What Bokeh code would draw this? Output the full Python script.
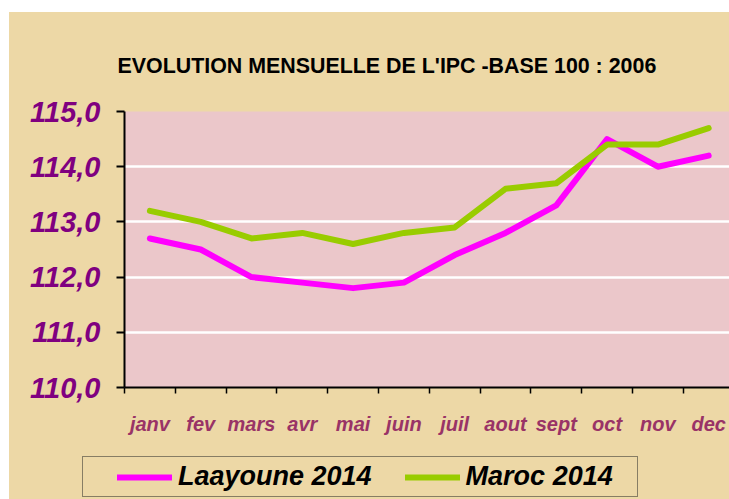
from bokeh.plotting import figure
from bokeh.models import (Range1d, FixedTicker, Legend, LegendItem, Title, Spacer)
from bokeh.layouts import column, row
from bokeh.embed import file_html
from bokeh.resources import INLINE

months = ["janv", "fev", "mars", "avr", "mai", "juin", "juil", "aout", "sept", "oct", "nov", "dec"]
laayoune = [112.7, 112.5, 112.0, 111.9, 111.8, 111.9, 112.4, 112.8, 113.3, 114.5, 114.0, 114.2]
maroc = [113.2, 113.0, 112.7, 112.8, 112.6, 112.8, 112.9, 113.6, 113.7, 114.4, 114.4, 114.7]
y_ticks = [110, 111, 112, 113, 114, 115]
y_labels = ["110,0", "111,0", "112,0", "113,0", "114,0", "115,0"]
title_text = "EVOLUTION MENSUELLE DE L'IPC -BASE 100 : 2006"
series_names = ["Laayoune 2014", "Maroc 2014"]
series_colors = ["#FF00FF", "#99CC00"]

FONT = "Liberation Sans"
TAN = "#EDD8A6"
PINK = "#EBC7CA"

xs = list(range(len(months)))

p = figure(width=720, height=438, output_backend="svg", toolbar_location=None,
           x_range=Range1d(-0.5, 11.41), y_range=Range1d(110, 115),
           min_border_left=115, min_border_right=0, min_border_top=99,
           min_border_bottom=63)
p.background_fill_color = PINK
p.border_fill_color = TAN
p.outline_line_color = None

p.title = Title(text=title_text, align="left", offset=-7, standoff=67,
                text_font=FONT, text_font_size="21.4px", text_font_style="bold",
                text_color="black")

# y axis
ya = p.yaxis[0]
ya.ticker = FixedTicker(ticks=y_ticks)
ya.major_label_overrides = {t: l for t, l in zip(y_ticks, y_labels)}
ya.major_label_text_font = FONT
ya.major_label_text_font_size = "29px"
ya.major_label_text_font_style = "bold italic"
ya.major_label_text_color = "#800080"
ya.major_label_standoff = 16
ya.axis_line_color = "black"
ya.axis_line_width = 2
ya.major_tick_line_color = "black"
ya.major_tick_line_width = 2
ya.major_tick_out = 8
ya.major_tick_in = 0
ya.minor_tick_line_color = None

# x axis
xa = p.xaxis[0]
xa.ticker = FixedTicker(ticks=xs, minor_ticks=[i - 0.5 for i in range(len(months) + 1)])
xa.major_label_overrides = {i: m for i, m in enumerate(months)}
xa.major_label_text_font = FONT
xa.major_label_text_font_size = "20px"
xa.major_label_text_font_style = "bold italic"
xa.major_label_text_color = "#993366"
xa.major_label_standoff = 19
xa.axis_line_color = "black"
xa.axis_line_width = 2
xa.major_tick_line_color = None
xa.major_tick_out = 0
xa.major_tick_in = 0
xa.minor_tick_line_color = "black"
xa.minor_tick_line_width = 1.5
xa.minor_tick_out = 6
xa.minor_tick_in = 0

p.xgrid.grid_line_color = None
p.ygrid.grid_line_color = "white"
p.ygrid.grid_line_width = 2.5

line_style = dict(line_width=6, line_cap="round", line_join="round")
r1 = p.line(xs, laayoune, line_color=series_colors[0], **line_style)
r2 = p.line(xs, maroc, line_color=series_colors[1], **line_style)

# legend strip as a separate figure (its own ranges keep the series out of view)
pl = figure(width=720, height=49, output_backend="svg", toolbar_location=None,
            x_axis_type=None, y_axis_type=None,
            x_range=Range1d(100, 101), y_range=Range1d(0, 1),
            min_border_left=0, min_border_right=0, min_border_top=0, min_border_bottom=0)
pl.background_fill_color = TAN
pl.border_fill_color = TAN
pl.outline_line_color = None
pl.xgrid.grid_line_color = None
pl.ygrid.grid_line_color = None
l1 = pl.line(xs, laayoune, line_color=series_colors[0], **line_style)
l2 = pl.line(xs, maroc, line_color=series_colors[1], **line_style)

legend = Legend(items=[LegendItem(label=series_names[0], renderers=[l1]),
                       LegendItem(label=series_names[1], renderers=[l2])],
                orientation="horizontal", location=(73, 2),
                title=" ", title_location="left", title_text_font_size="10px",
                title_standoff=19,
                label_text_font=FONT, label_text_font_size="27px",
                label_text_font_style="bold italic", label_text_color="black",
                glyph_width=55, glyph_height=20, label_standoff=6, spacing=33,
                label_width=167, padding=4, margin=0,
                border_line_color="#222222", border_line_width=1.5,
                background_fill_alpha=0)
pl.add_layout(legend, "center")

white = {"background-color": "white"}
layout = column(Spacer(height=12, width=729, styles=white),
                row(Spacer(width=9, height=438, styles=white), p),
                row(Spacer(width=9, height=49, styles=white), pl),
                styles={"background-color": TAN})
open("out.html", "w").write(file_html(layout, INLINE))
